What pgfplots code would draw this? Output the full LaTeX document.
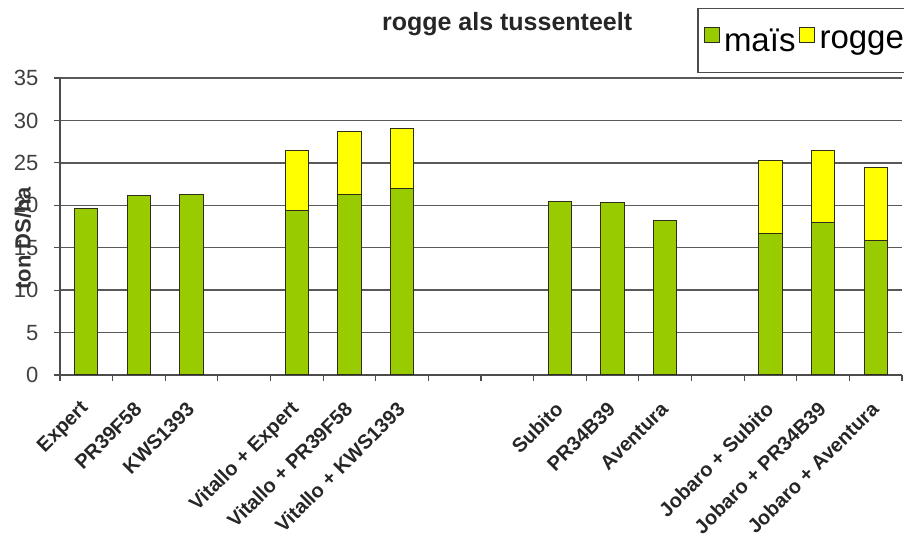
\documentclass[border=0pt]{standalone}
\usepackage{pgfplots}
\pgfplotsset{compat=1.18}
\usepackage{fontspec}
\setmainfont{Liberation Sans}
\definecolor{mgreen}{HTML}{99CC00}
\definecolor{ryellow}{HTML}{FFFF00}
\definecolor{bord}{HTML}{2E2E1A}
\begin{document}
\begin{tikzpicture}
\useasboundingbox (-60pt,-162pt) rectangle (844pt,375pt);
\begin{axis}[
  scale only axis,
  width=842pt, height=297pt,
  ybar stacked,
  bar width=0.44,
  xmin=-0.5, xmax=15.5,
  ymin=0, ymax=35,
  ytick={0,5,...,35},
  xtick={0,1,2,4,5,6,9,10,11,13,14,15},
  xticklabels={Expert,PR39F58,KWS1393,Vitallo + Expert,Vitallo + PR39F58,Vitallo + KWS1393,Subito,PR34B39,Aventura,Jobaro + Subito,Jobaro + PR34B39,Jobaro + Aventura},
  minor xtick={-0.5,0.5,...,15.5},
  axis x line=bottom, axis y line=left,
  axis line style={-, color=black!70, line width=1.2pt},
  major x tick style={draw=none},
  minor x tick style={color=black!70, line width=1.2pt},
  minor tick length=6pt,
  major tick length=6pt,
  y tick style={color=black!70, line width=1.2pt},
  tick align=outside,
  ymajorgrids,
  major grid style={color=black!65, line width=1.3pt},
  /pgf/number format/assume math mode=true,
  yticklabel style={font=\fontsize{22}{22}\selectfont, color=black!75, xshift=-12pt},
  xticklabel style={font=\bfseries\fontsize{20}{20}\selectfont, color=black!85, inner sep=1pt, xshift=0pt, yshift=-24pt, rotate=45, anchor=east},
  ylabel={\bfseries ton DS/ha},
  ylabel style={font=\fontsize{22}{22}\selectfont, color=black!80, at={(axis description cs:-0.044,0.46)}, anchor=center, rotate=0},
  title={\bfseries rogge als tussenteelt},
  title style={font=\fontsize{25}{25}\selectfont, color=black!85, at={(axis description cs:0.531,1.16)}, anchor=center},
  legend columns=2,
  legend style={at={(axis description cs:0.757,1.236)}, anchor=north west, draw=black!70, line width=1.2pt, font=\fontsize{33}{33}\selectfont, inner ysep=18pt, inner xsep=4pt, /tikz/every even column/.append style={column sep=0pt}},
  legend image code/.code={\path[draw=none,fill=none] (0pt,0pt) -- (20pt,0pt); \draw[#1, line width=1pt] (2pt,-2pt) rectangle (17pt,13pt);},
  every axis plot/.append style={draw=bord, line width=1pt},
]
\addplot[fill=mgreen] coordinates {(0,19.6) (1,21.1) (2,21.3) (4,19.4) (5,21.3) (6,22.0) (9,20.5) (10,20.3) (11,18.2) (13,16.7) (14,18.0) (15,15.9)};
\addplot[fill=ryellow] coordinates {(0,0) (1,0) (2,0) (4,7.1) (5,7.4) (6,7.0) (9,0) (10,0) (11,0) (13,8.6) (14,8.5) (15,8.6)};
\legend{maïs,rogge}
\end{axis}
\end{tikzpicture}
\end{document}
